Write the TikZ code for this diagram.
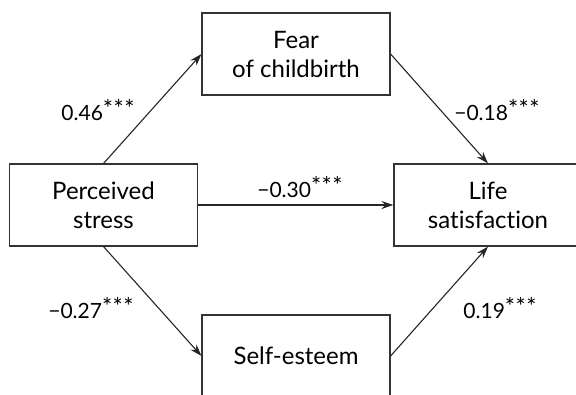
\documentclass[tikz,border=0pt]{standalone}
\usepackage{fontspec}
\setmainfont{Lato}[Ligatures=NoCommon]
\usetikzlibrary{arrows.meta}
\newcommand{\sigstars}{\raisebox{0.12em}{\fontsize{24}{24}\selectfont *\kern0.5pt*\kern0.5pt*}}
\begin{document}
\begin{tikzpicture}[x=1pt,y=-1pt,
  box/.style={draw=black!80,line width=1.1pt,minimum width=188pt,minimum height=82pt,align=center,font=\fontsize{24}{29}\selectfont,inner sep=0pt},
  lab/.style={font=\fontsize{21}{24}\selectfont,inner sep=0pt},
  arr/.style={line width=1.1pt,draw=black!85,-{Stealth[length=12pt,width=8pt]}}]
\useasboundingbox (0,0) rectangle (576,394);
\clip (0,0) rectangle (576,394);
\node[box] (ps) at (103.5,205) {Perceived\\stress};
\node[box] (fear) at (296,54) {Fear\\of childbirth};
\node[box] (se) at (296,356) {Self-esteem};
\node[box] (ls) at (488,205) {Life\\satisfaction};
\draw[arr] (ps.north) -- (fear.west);
\draw[arr] (fear.east) -- (ls.north);
\draw[arr] (ps.east) -- (ls.west);
\draw[arr] (ps.south) -- (se.west);
\draw[arr] (se.east) -- (ls.south);
\node[lab] (l1) at (98,110) {0.46\sigstars};
\node[lab] (l2) at (497,110) {−0.18\sigstars};
\node[lab] (l3) at (300,187) {−0.30\sigstars};
\node[lab] (l4) at (91,308) {−0.27\sigstars};
\node[lab] (l5) at (500,308) {0.19\sigstars};
\end{tikzpicture}
\end{document}
